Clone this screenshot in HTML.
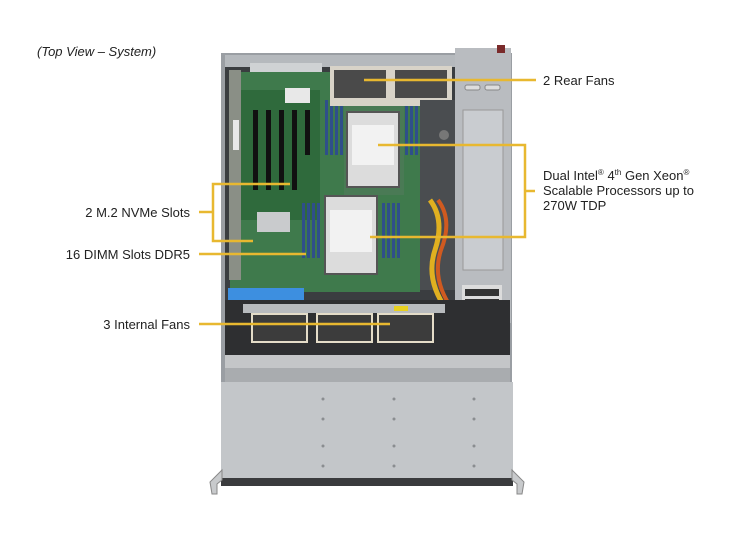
<!DOCTYPE html>
<html><head><meta charset="utf-8"><style>
html,body{margin:0;padding:0;background:#fff;}
svg{display:block;}
text{font-family:"Liberation Sans",Arial,sans-serif;font-size:13px;fill:#222;}
</style></head><body>
<svg width="732" height="540" viewBox="0 0 732 540" xmlns="http://www.w3.org/2000/svg">
<rect width="732" height="540" fill="#fff"/>
<text x="37" y="56" font-style="italic">(Top View – System)</text>

<!-- chassis outer -->
<rect x="221" y="53" width="291" height="330" fill="#9a9ea3"/>
<rect x="225" y="57" width="283" height="320" fill="#3a3d40"/>
<!-- rear top strip -->
<rect x="225" y="55" width="230" height="12" fill="#b5b9bd"/>
<!-- PCI brackets area -->
<rect x="250" y="63" width="72" height="15" fill="#cfd2d4"/>
<!-- motherboard -->
<rect x="230" y="72" width="190" height="220" fill="#3f7a4c"/>
<rect x="240" y="90" width="80" height="130" fill="#2f6a3c"/>
<!-- PCIe slots -->
<rect x="253" y="110" width="5" height="80" fill="#111"/>
<rect x="266" y="110" width="5" height="80" fill="#111"/>
<rect x="279" y="110" width="5" height="80" fill="#111"/>
<rect x="292" y="110" width="5" height="80" fill="#111"/>
<rect x="305" y="110" width="5" height="45" fill="#111"/>
<rect x="285" y="88" width="25" height="15" fill="#e8e8e8"/>
<!-- left cables / riser -->
<rect x="229" y="70" width="12" height="210" fill="#8a8f86"/>
<rect x="233" y="120" width="6" height="30" fill="#e8e8e8"/>
<!-- heatsink chip -->
<rect x="257" y="212" width="33" height="20" fill="#c9cbcd"/>
<!-- DIMMs CPU1 -->
<g fill="#2f4f8a">
<rect x="325" y="100" width="3" height="55"/><rect x="330" y="100" width="3" height="55"/><rect x="335" y="100" width="3" height="55"/><rect x="340" y="100" width="3" height="55"/>
<rect x="405" y="100" width="3" height="55"/><rect x="410" y="100" width="3" height="55"/><rect x="415" y="100" width="3" height="55"/><rect x="420" y="100" width="3" height="55"/>
<rect x="302" y="203" width="3" height="55"/><rect x="307" y="203" width="3" height="55"/><rect x="312" y="203" width="3" height="55"/><rect x="317" y="203" width="3" height="55"/>
<rect x="382" y="203" width="3" height="55"/><rect x="387" y="203" width="3" height="55"/><rect x="392" y="203" width="3" height="55"/><rect x="397" y="203" width="3" height="55"/>
</g>
<rect x="344" y="100" width="60" height="95" fill="#4a7a55"/>
<!-- CPU heatsinks -->
<rect x="347" y="112" width="52" height="75" fill="#dcdcdc" stroke="#555" stroke-width="2"/>
<rect x="352" y="125" width="42" height="40" fill="#f2f2f2"/>
<rect x="325" y="196" width="52" height="78" fill="#dcdcdc" stroke="#555" stroke-width="2"/>
<rect x="330" y="210" width="42" height="42" fill="#f2f2f2"/>
<!-- rear fans -->
<rect x="330" y="66" width="122" height="40" fill="#d8d3c8"/>
<rect x="334" y="70" width="52" height="28" fill="#4a4a4a"/>
<rect x="395" y="70" width="52" height="28" fill="#4a4a4a"/>
<!-- air shroud area right -->
<rect x="420" y="100" width="35" height="190" fill="#4a4d50"/>
<circle cx="444" cy="135" r="5" fill="#777"/>
<!-- cables -->
<path d="M430 200 q15 20 5 50 q-10 30 12 60" stroke="#e0b020" stroke-width="5" fill="none"/>
<path d="M438 200 q15 20 3 50 q-10 30 12 60" stroke="#d05a20" stroke-width="4" fill="none"/>
<!-- PSU -->
<rect x="455" y="48" width="56" height="275" fill="#b9bcc0"/>
<rect x="463" y="110" width="40" height="160" fill="#c9ccd0" stroke="#999"/>
<rect x="465" y="85" width="15" height="5" rx="2" fill="#ddd" stroke="#888"/>
<rect x="485" y="85" width="15" height="5" rx="2" fill="#ddd" stroke="#888"/>
<rect x="462" y="285" width="40" height="25" fill="#dcdcdc"/>
<g fill="#333"><rect x="465" y="289" width="34" height="7"/><rect x="465" y="299" width="34" height="7"/></g>
<rect x="497" y="45" width="8" height="8" fill="#7a2a2a"/>
<!-- blue bar -->
<rect x="228" y="288" width="76" height="12" fill="#3d8fe0"/>
<!-- fan bracket -->
<rect x="225" y="300" width="285" height="56" fill="#2e2f31"/>
<rect x="243" y="304" width="202" height="9" fill="#b8bbbe"/>
<rect x="394" y="306" width="14" height="5" fill="#e8d020"/>
<g fill="#3c3c3c" stroke="#e4dcc8" stroke-width="2">
<rect x="252" y="314" width="55" height="28"/><rect x="317" y="314" width="55" height="28"/><rect x="378" y="314" width="55" height="28"/>
</g>
<rect x="225" y="355" width="285" height="13" fill="#c4c6c8"/>
<rect x="225" y="368" width="285" height="15" fill="#a9acaf"/>
<!-- front panel -->
<rect x="221" y="382" width="292" height="98" fill="#c3c6c9"/>
<rect x="221" y="478" width="292" height="8" fill="#3a3b3d"/>
<g fill="#8a8d90">
<circle cx="323" cy="399" r="1.5"/><circle cx="394" cy="399" r="1.5"/><circle cx="474" cy="399" r="1.5"/>
<circle cx="323" cy="419" r="1.5"/><circle cx="394" cy="419" r="1.5"/><circle cx="474" cy="419" r="1.5"/>
<circle cx="323" cy="446" r="1.5"/><circle cx="394" cy="446" r="1.5"/><circle cx="474" cy="446" r="1.5"/>
<circle cx="323" cy="466" r="1.5"/><circle cx="394" cy="466" r="1.5"/><circle cx="474" cy="466" r="1.5"/>
</g>
<!-- handles -->
<path d="M222 470 L210 482 L212 494 L217 494 L217 484 L222 480 Z" fill="#c8cacc" stroke="#888"/>
<path d="M512 470 L524 482 L522 494 L517 494 L517 484 L512 480 Z" fill="#c8cacc" stroke="#888"/>

<!-- callout lines -->
<g stroke="#e8b830" stroke-width="2.5" fill="none">
<path d="M364 80 H536"/>
<path d="M378 145 H525 V237 H370"/>
<path d="M525 191 H535"/>
<path d="M290 184 H213 V241 H253"/>
<path d="M199 212 H213"/>
<path d="M199 254 H306"/>
<path d="M199 324 H390"/>
</g>

<text x="543" y="85">2 Rear Fans</text>
<text x="543" y="180">Dual Intel<tspan font-size="8" dy="-5">®</tspan><tspan dy="5">  4</tspan><tspan font-size="8" dy="-5">th</tspan><tspan dy="5"> Gen Xeon</tspan><tspan font-size="8" dy="-5">®</tspan></text>
<text x="543" y="195">Scalable Processors up to</text>
<text x="543" y="210">270W TDP</text>
<text x="190" y="217" text-anchor="end">2 M.2 NVMe Slots</text>
<text x="190" y="259" text-anchor="end">16 DIMM Slots DDR5</text>
<text x="190" y="329" text-anchor="end">3 Internal  Fans</text>
</svg>
</body></html>
